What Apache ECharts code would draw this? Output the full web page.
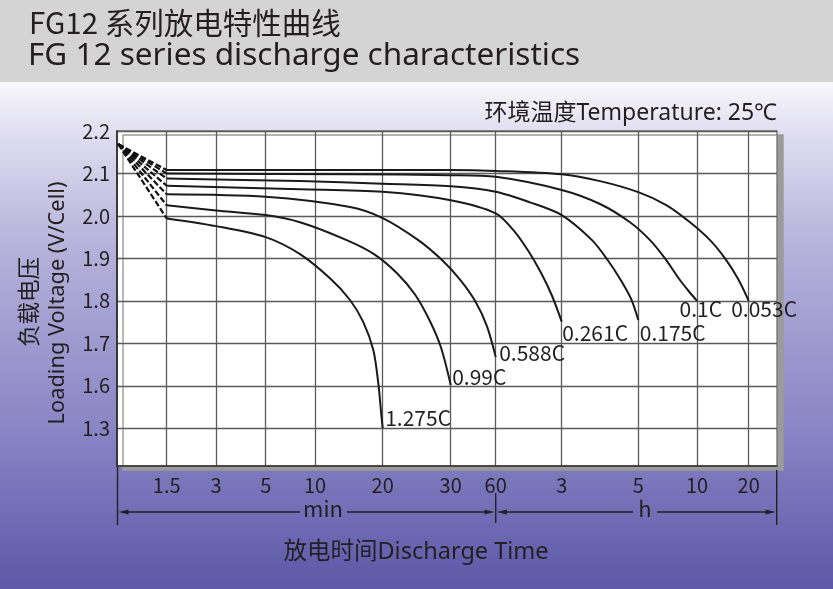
<!DOCTYPE html>
<html><head><meta charset="utf-8">
<script src="https://cdn.jsdelivr.net/npm/echarts@6/dist/echarts.min.js"></script>
<style>html,body{margin:0;padding:0;background:#fff}#c{width:833px;height:589px}</style>
</head><body><div id="c"></div>
<script>
// ---- data (x in time-axis position units, y in V/cell) ----
const rates = ['0.053C', '0.1C', '0.175C', '0.261C', '0.588C', '0.99C', '1.275C'];
const apex = [1.3, 2.169];
const c053 = [[49.7,2.108],[183,2.108],[333,2.108],[378.7,2.106],[444.7,2.098],[483,2.082],[521.3,2.056],[549.7,2.025],[573,1.985],[593,1.943],[608,1.900],[621,1.852],[631.7,1.800]];
const c01 = [[49.7,2.100],[233,2.098],[333.7,2.096],[378.7,2.092],[444.7,2.061],[483,2.028],[513,1.985],[533,1.943],[548,1.900],[562,1.852],[572,1.822],[580,1.800]];
const c0175 = [[49.7,2.088],[183,2.082],[265.7,2.076],[333.7,2.070],[378.7,2.057],[413,2.032],[444.7,2.002],[475,1.943],[491,1.895],[504,1.848],[514,1.805],[521.3,1.755]];
const c0261 = [[49.7,2.071],[183,2.063],[265.7,2.057],[333.7,2.037],[378.7,2.006],[398,1.962],[412,1.915],[424,1.866],[435,1.812],[444.7,1.751]];
const c0588 = [[49.7,2.051],[148.7,2.045],[233,2.021],[265.7,1.995],[301.3,1.943],[325,1.896],[343,1.850],[358,1.800],[370,1.740],[378.7,1.668]];
const c099 = [[49.7,2.025],[99,2.013],[148.7,2.002],[183,1.985],[229.7,1.943],[257,1.910],[280,1.865],[298,1.815],[313,1.752],[324,1.690],[333.7,1.602]];
const c1275 = [[49.7,1.994],[99,1.976],[148.7,1.950],[183,1.910],[213,1.853],[233,1.802],[246.3,1.750],[256.3,1.684],[261.3,1.606],[264.2,1.535],[265.7,1.500]];
const curves = [c053, c01, c0175, c0261, c0588, c099, c1275];
const xTickPos = [49.7, 99, 148.7, 198, 265.7, 333.7, 378.7, 444.7, 521.3, 580, 631.7];
const xTickLabels = ['1.5', '3', '5', '10', '20', '30', '60', '3', '5', '10', '20'];
const yTickValues = [1.5, 1.6, 1.7, 1.8, 1.9, 2.0, 2.1, 2.2];
const yTickLabels = ['1.3', '1.6', '1.7', '1.8', '1.9', '2.0', '2.1', '2.2'];

// ---- styling ----
const FONT = '"Noto Sans CJK SC", "Noto Sans", sans-serif';
const LFONT = '"Noto Sans", "Noto Sans CJK SC", sans-serif';
const TXT = '#231f20';
const labelOffsets = [[-17, 9], [-17, 9], [2, 14], [1, 12], [4, -3], [2, -7], [3, -10]];

function lookup(vals, labels, v) {
  for (let i = 0; i < vals.length; i++) if (Math.abs(vals[i] - v) < 1e-6) return labels[i];
  return '';
}

const series = [];
curves.forEach((c, i) => {
  series.push({
    type: 'line', name: rates[i] + '-lead', data: [apex, c[0]], symbol: 'none', silent: true,
    lineStyle: { color: '#111', width: 2.2, type: [6, 2.5] }, z: 3
  });
  series.push({
    type: 'line', name: rates[i], data: c, symbol: 'none', smooth: 0.3, silent: true,
    lineStyle: { color: '#1a1a1a', width: 2 }, z: 4,
    markPoint: {
      symbol: 'circle', symbolSize: 1, itemStyle: { color: 'rgba(0,0,0,0)' }, silent: true,
      data: [{ coord: c[c.length - 1], value: rates[i] }],
      label: {
        show: true, formatter: rates[i], position: labelOffsets[i], align: 'left', verticalAlign: 'middle',
        fontSize: 21, fontFamily: FONT, color: TXT
      }
    }
  });
});

function line(x1, y1, x2, y2) {
  return { type: 'line', silent: true, shape: { x1, y1, x2, y2 }, style: { stroke: '#222', lineWidth: 1.4 } };
}
function arrow(tipX, y, dir) {
  const b = tipX - dir * 10;
  return { type: 'polygon', silent: true, shape: { points: [[tipX, y], [b, y - 2.6], [b, y + 2.6]] }, style: { fill: '#222' } };
}
function text(x, y, str, font, align, rot) {
  return { type: 'text', silent: true, x, y, rotation: rot || 0, style: { text: str, font, fill: TXT, textAlign: align || 'center', textVerticalAlign: 'middle' } };
}

const option = {
  animation: false,
  grid: {
    left: 117, right: 56, top: 131, bottom: 123, show: true, backgroundColor: '#fff',
    borderColor: '#777', borderWidth: 1.4, shadowColor: '#9b9b9b', shadowBlur: 0, shadowOffsetX: 6, shadowOffsetY: 4
  },
  xAxis: {
    type: 'value', min: 0, max: 660,
    axisLine: { show: true, lineStyle: { color: '#333', width: 1.6 } },
    axisTick: { show: false, customValues: xTickPos },
    axisLabel: { customValues: xTickPos, formatter: v => lookup(xTickPos, xTickLabels, v), fontSize: 20, fontFamily: FONT, color: TXT, margin: 9 },
    splitLine: { show: true, lineStyle: { color: '#5a5a5a', width: 1.3 } }
  },
  yAxis: {
    type: 'value', min: 1.411, max: 2.2,
    axisLine: { show: true, lineStyle: { color: '#222', width: 1.6 } },
    axisTick: { show: false, customValues: yTickValues },
    axisLabel: { customValues: yTickValues, formatter: v => lookup(yTickValues, yTickLabels, v), fontSize: 20, fontFamily: FONT, color: TXT, margin: 7 },
    splitLine: { show: true, lineStyle: { color: '#5a5a5a', width: 1.3 } }
  },
  graphic: [
    { type: 'rect', z: -10, silent: true, shape: { x: 0, y: 0, width: 833, height: 82 }, style: { fill: '#d4d4d4' } },
    { type: 'rect', z: -10, silent: true, shape: { x: 0, y: 82, width: 833, height: 507 },
      style: { fill: new echarts.graphic.LinearGradient(0, 0, 0, 1, [
        { offset: 0, color: '#f8f8fc' }, { offset: 0.114, color: '#dddbef' }, { offset: 0.331, color: '#b5b1da' },
        { offset: 0.706, color: '#8782c3' }, { offset: 1, color: '#5c57a7' }]) } },
    text(29, 23, 'FG12 系列放电特性曲线', '29.5px ' + FONT, 'left'),
    text(28, 56, 'FG 12 series discharge characteristics', '31.5px ' + LFONT, 'left'),
    text(777, 113, '环境温度Temperature: 25℃', '23px ' + LFONT, 'right'),
    text(28, 302, '负载电压', '22.5px ' + FONT, 'center', Math.PI / 2),
    text(58, 303, 'Loading Voltage (V/Cell)', '21.8px ' + LFONT, 'center', Math.PI / 2),
    text(416, 552, '放电时间Discharge Time', '23.5px ' + LFONT, 'center'),
    text(323, 509, 'min', '22px ' + FONT, 'center'),
    text(645, 509, 'h', '22px ' + FONT, 'center'),
    line(117.5, 466, 117.5, 525), line(495.7, 493, 495.7, 523), line(776.7, 470, 776.7, 525),
    line(126, 512, 300, 512), arrow(118.5, 512, -1),
    line(347, 512, 486, 512), arrow(494.5, 512, 1),
    line(506, 512, 633, 512), arrow(497, 512, -1),
    line(657, 512, 767, 512), arrow(775.5, 512, 1)
  ],
  series
};
const chart = echarts.init(document.getElementById('c'));
chart.setOption(option);
</script>
</body></html>
